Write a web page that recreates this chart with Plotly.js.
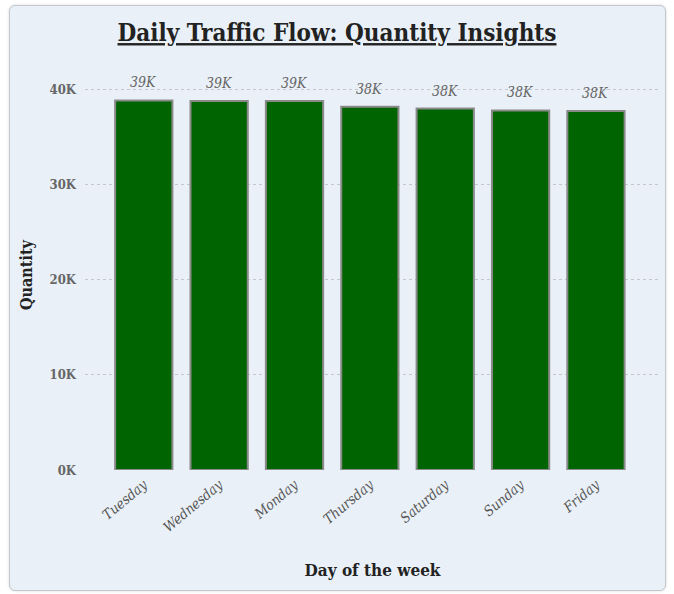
<!DOCTYPE html>
<html><head><meta charset="utf-8">
<script src="https://cdn.plot.ly/plotly-3.0.1.min.js"></script>
<style>
html,body{margin:0;padding:0;background:#fff;width:674px;height:594px;overflow:hidden}
#frame{position:absolute;left:9px;top:5px;width:655px;height:584px;border:1px solid #c4c8cc;border-radius:6px;background:#e9f0f7;box-shadow:0 0 3px rgba(0,0,0,0.15)}
#chart{position:absolute;left:0;top:0;width:674px;height:594px}
</style></head>
<body>
<div id="frame"></div>
<div id="chart"></div>
<script>
const days = ['Tuesday','Wednesday','Monday','Thursday','Saturday','Sunday','Friday'];
const quantity = [38850, 38800, 38780, 38200, 38000, 37800, 37750];
const yTickVals = [0, 10000, 20000, 30000, 40000];
const yTickText = ['0K','10K','20K','30K','40K'];

const FONT = '"DejaVu Serif Condensed", "DejaVu Serif", serif';
const labels = quantity.map(v => Math.round(v/1000) + 'K');

const trace = {
  type: 'bar', x: days, y: quantity,
  marker: {color: '#006400', line: {color: '#8a8a8a', width: 2}},
  width: 0.76, hoverinfo: 'none'
};

const annotations = days.map((d, i) => ({
  x: d, y: quantity[i], xref: 'x', yref: 'y', text: labels[i], showarrow: false,
  yanchor: 'bottom', yshift: 8,
  font: {family: FONT, size: 14, color: '#666', style: 'italic'}
}));

const layout = {
  width: 674, height: 594,
  paper_bgcolor: 'rgba(0,0,0,0)', plot_bgcolor: 'rgba(0,0,0,0)',
  margin: {l: 85, r: 14, t: 80, b: 124},
  showlegend: false,
  annotations: annotations,
  title: {text: '<b><u>Daily Traffic Flow: Quantity Insights</u></b>', x: 0.5, xanchor: 'center', y: 0.945, yanchor: 'middle',
    font: {family: FONT, size: 24, color: '#222'}},
  xaxis: {
    range: [-0.78, 6.85], tickangle: -40, showgrid: false, zeroline: false, showline: false,
    tickfont: {family: FONT, size: 14, color: '#555', style: 'italic'},
    ticklabelstandoff: 3,
    title: {text: '<b>Day of the week</b>', font: {family: FONT, size: 17, color: '#222'}, standoff: 30}
  },
  yaxis: {
    range: [0, 41000], tickvals: yTickVals, ticktext: yTickText,
    showgrid: true, gridcolor: '#c4c8cc', griddash: 'dot', gridwidth: 1, zeroline: false,
    tickfont: {family: FONT, size: 13, color: '#666', weight: 'bold'},
    ticklabelstandoff: 8,
    title: {text: '<b>Quantity</b>', font: {family: FONT, size: 16, color: '#222'}, standoff: 12}
  }
};
Plotly.newPlot('chart', [trace], layout, {displayModeBar: false, staticPlot: true});
</script>
</body></html>
